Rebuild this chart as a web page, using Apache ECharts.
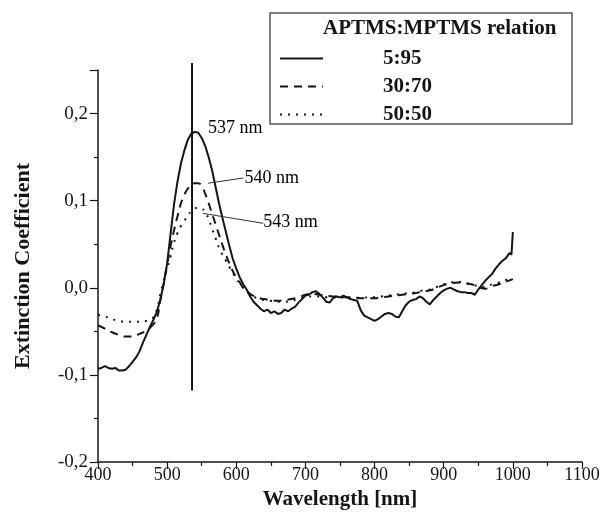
<!DOCTYPE html>
<html>
<head>
<meta charset="utf-8">
<script src="https://cdn.jsdelivr.net/npm/echarts@6/dist/echarts.min.js"></script>
<style>html,body{margin:0;padding:0;background:#fff}#c{width:605px;height:514px}</style>
</head>
<body>
<div id="c"></div>
<script>
const seriesNames = ['5:95', '30:70', '50:50'];
const legendTitle = 'APTMS:MPTMS relation';

const wl_5_95 = [400,405,410,415,420,425,430,435,440,445,450,455,460,465,470,475,480,485,490,495,500,505,510,515,520,525,530,535,540,545,550,555,560,565,570,575,580,585,590,595,600,605,610,615,620,625,630,635,640,645,650,655,660,665,670,675,680,685,690,695,700,705,710,715,720,725,730,735,740,745,750,755,760,765,770,775,780,785,790,795,800,805,810,815,820,825,830,835,840,845,850,855,860,865,870,875,880,885,890,895,900,905,910,915,920,925,930,935,940,945,950,955,960,965,970,975,980,985,990,995,998,1000];
const ext_5_95 = [-0.093,-0.092,-0.090,-0.092,-0.093,-0.092,-0.095,-0.095,-0.094,-0.090,-0.085,-0.080,-0.073,-0.063,-0.054,-0.045,-0.037,-0.028,-0.014,0.004,0.028,0.062,0.096,0.122,0.143,0.158,0.170,0.177,0.179,0.178,0.172,0.163,0.150,0.135,0.116,0.097,0.080,0.064,0.048,0.033,0.022,0.012,0.004,-0.002,-0.010,-0.016,-0.020,-0.024,-0.027,-0.025,-0.029,-0.027,-0.030,-0.029,-0.025,-0.027,-0.024,-0.022,-0.017,-0.013,-0.009,-0.008,-0.005,-0.004,-0.007,-0.011,-0.016,-0.017,-0.012,-0.010,-0.011,-0.009,-0.011,-0.013,-0.014,-0.015,-0.026,-0.032,-0.034,-0.036,-0.038,-0.036,-0.033,-0.030,-0.029,-0.030,-0.033,-0.034,-0.027,-0.020,-0.016,-0.014,-0.013,-0.010,-0.012,-0.016,-0.019,-0.014,-0.010,-0.006,-0.003,-0.001,0.000,-0.002,-0.004,-0.005,-0.005,-0.006,-0.006,-0.008,-0.002,0.003,0.008,0.012,0.016,0.022,0.027,0.031,0.034,0.040,0.038,0.064];

const wl_30_70 = [400,410,420,430,440,450,460,470,480,485,490,495,500,505,510,515,520,525,530,535,540,545,550,555,560,565,570,575,580,585,590,595,600,605,610,615,620,630,640,650,660,670,680,690,700,710,720,730,740,750,760,770,780,790,800,810,820,830,840,850,860,870,880,890,900,910,920,930,940,950,960,970,980,990,1000];
const ext_30_70 = [-0.043,-0.047,-0.051,-0.054,-0.056,-0.056,-0.053,-0.049,-0.042,-0.036,-0.015,0.005,0.027,0.048,0.066,0.082,0.097,0.107,0.114,0.118,0.120,0.120,0.117,0.108,0.097,0.085,0.073,0.061,0.049,0.038,0.028,0.019,0.012,0.006,0.000,-0.004,-0.007,-0.011,-0.013,-0.014,-0.015,-0.014,-0.013,-0.011,-0.008,-0.007,-0.008,-0.009,-0.010,-0.010,-0.011,-0.011,-0.012,-0.012,-0.012,-0.011,-0.010,-0.009,-0.008,-0.007,-0.006,-0.004,-0.003,0.000,0.003,0.005,0.006,0.005,0.004,0.001,-0.001,0.002,0.004,0.007,0.010];

const wl_50_50 = [400,410,420,430,440,450,460,470,480,485,490,495,500,505,510,515,520,525,530,535,540,545,550,555,560,565,570,575,580,585,590,595,600,605,610,615,620,630,640,650,660,670,680,690,700,710,720,730,740,750,760,770,780,790,800,810,820,830,840,850,860,870,880,890,900,910,920,930,940,950,960,970,980,990,1000];
const ext_50_50 = [-0.031,-0.033,-0.036,-0.038,-0.039,-0.039,-0.039,-0.038,-0.034,-0.025,-0.008,0.008,0.022,0.036,0.052,0.063,0.071,0.077,0.083,0.088,0.091,0.092,0.091,0.087,0.079,0.068,0.057,0.046,0.038,0.031,0.024,0.017,0.010,0.005,0.000,-0.004,-0.007,-0.012,-0.014,-0.015,-0.016,-0.016,-0.015,-0.013,-0.011,-0.010,-0.010,-0.011,-0.011,-0.011,-0.012,-0.012,-0.012,-0.011,-0.011,-0.010,-0.009,-0.008,-0.007,-0.006,-0.005,-0.003,-0.002,0.001,0.004,0.006,0.007,0.006,0.004,0.002,0.001,0.004,0.006,0.009,0.012];

// vertical reference line at the peak: [wavelength, bottom, top]
const peakLine = [536, -0.118, 0.258];
// annotation labels: [wavelength, value, text]
const annotations = [[559, 0.183, '537 nm'], [612, 0.126, '540 nm'], [639, 0.075, '543 nm']];
// annotation pointers: [fromWl, fromVal, toWl, toVal]
const pointers = [[610, 0.126, 559, 0.120], [639, 0.074, 552, 0.0854]];

const xTicks = {min: 400, max: 1100, interval: 100};
const yTicks = {min: -0.2, max: 0.25, interval: 0.1};

function zip(a, b) { return a.map((x, i) => [x, b[i]]); }

const serif = 'Liberation Serif';
const ink = '#151515';

const chart = echarts.init(document.getElementById('c'), null, {renderer: 'canvas'});
chart.setOption({
  animation: false,
  backgroundColor: '#fff',
  grid: {left: 98, right: 23, top: 70, bottom: 52, containLabel: false, outerBoundsMode: 'none'},
  xAxis: {
    type: 'value', min: xTicks.min, max: xTicks.max, interval: xTicks.interval,
    name: 'Wavelength [nm]', nameLocation: 'middle', nameGap: 19,
    nameTextStyle: {fontFamily: serif, fontWeight: 'bold', fontSize: 21, color: ink},
    axisLine: {show: true, onZero: false, lineStyle: {color: ink, width: 1.5}},
    axisTick: {show: true, length: 7, lineStyle: {color: ink, width: 1.2}},
    minorTick: {show: true, splitNumber: 2, length: 4, lineStyle: {color: ink, width: 1.2}},
    splitLine: {show: false},
    axisLabel: {fontFamily: serif, fontSize: 18, color: ink, margin: 4, formatter: v => String(v)}
  },
  yAxis: {
    type: 'value', min: yTicks.min, max: yTicks.max, interval: yTicks.interval,
    name: 'Extinction Coefficient', nameLocation: 'middle', nameGap: 64, nameRotate: 90,
    nameTextStyle: {fontFamily: serif, fontWeight: 'bold', fontSize: 22, color: ink},
    axisLine: {show: true, onZero: false, lineStyle: {color: ink, width: 1.5}},
    axisTick: {show: true, length: 8, lineStyle: {color: ink, width: 1.2}},
    minorTick: {show: true, splitNumber: 2, length: 4, lineStyle: {color: ink, width: 1.2}},
    splitLine: {show: false},
    axisLabel: {
      fontFamily: serif, fontSize: 19, color: ink, margin: 10,
      formatter: v => Math.abs(v * 10 - Math.round(v * 10)) < 1e-6 ? v.toFixed(1).replace('.', ',') : ''
    }
  },
  legend: {
    data: seriesNames, orient: 'vertical', left: 274, top: 43,
    itemWidth: 43, itemHeight: 14, itemGap: 7,
    itemStyle: {opacity: 0, borderWidth: 0},
    lineStyle: {width: 2},
    textStyle: {fontFamily: serif, fontWeight: 'bold', fontSize: 21, color: ink, padding: [0, 0, 0, 55]},
    selectedMode: false
  },
  graphic: [
    {type: 'rect', shape: {x: 270, y: 13, width: 302, height: 111}, style: {fill: 'none', stroke: '#555', lineWidth: 1.5}, silent: true},
    {type: 'text', x: 323, y: 18, style: {text: legendTitle, font: 'bold 21px "Liberation Serif"', fill: ink}, silent: true}
  ],
  series: [
    {name: seriesNames[0], type: 'line', data: zip(wl_5_95, ext_5_95), symbol: 'none', smooth: false,
     lineStyle: {color: ink, width: 2, type: 'solid'}, itemStyle: {color: ink}},
    {name: seriesNames[1], type: 'line', data: zip(wl_30_70, ext_30_70), symbol: 'none', smooth: true,
     lineStyle: {color: ink, width: 2, type: [8, 6]}, itemStyle: {color: ink}},
    {name: seriesNames[2], type: 'line', data: zip(wl_50_50, ext_50_50), symbol: 'none', smooth: true,
     lineStyle: {color: ink, width: 2, type: [2, 6]}, itemStyle: {color: ink}},
    {name: 'peak', type: 'line', data: [[peakLine[0], peakLine[1]], [peakLine[0], peakLine[2]]], symbol: 'none', clip: false, silent: true,
     lineStyle: {color: ink, width: 2}, itemStyle: {color: ink},
     markLine: {
       silent: true, symbol: ['none', 'arrow'], symbolSize: [0, 7],
       lineStyle: {color: '#333', width: 1, type: 'solid'}, label: {show: false},
       data: pointers.map(p => [{coord: [p[0], p[1]]}, {coord: [p[2], p[3]]}])
     },
     markPoint: {
       silent: true, symbol: 'circle', symbolSize: 0, itemStyle: {color: 'rgba(0,0,0,0)'},
       label: {show: true, position: 'right', distance: 0, formatter: p => p.value,
               fontFamily: serif, fontSize: 18, color: '#000', opacity: 1},
       data: annotations.map(a => ({coord: [a[0], a[1]], value: a[2]}))
     }}
  ]
});
</script>
</body>
</html>
